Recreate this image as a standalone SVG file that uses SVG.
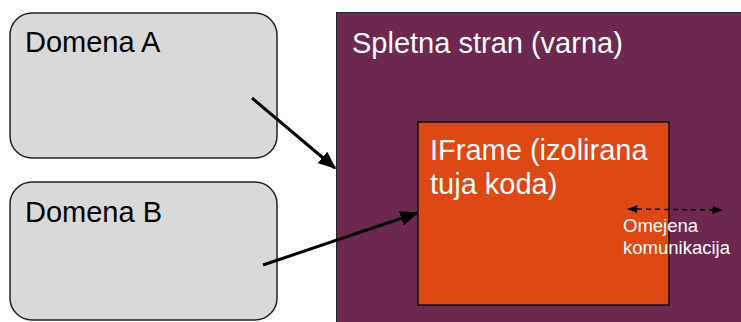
<svg xmlns="http://www.w3.org/2000/svg" width="741" height="322" viewBox="0 0 741 322">
<defs>
<style>
.dom{fill:#d9d9d9;stroke:#222;stroke-width:1.5}
.t{font-family:"Liberation Sans",Arial,sans-serif;font-size:29px}
.s{font-family:"Liberation Sans",Arial,sans-serif;font-size:18.5px;fill:#fff}
.conn{stroke:#000;stroke-width:3;fill:none}
.dash{stroke:#000;stroke-width:1.5;fill:none;stroke-dasharray:5,4}
</style>
<marker id="ah" markerWidth="6" markerHeight="5" refX="5.5" refY="2.5" orient="auto" markerUnits="strokeWidth">
<path d="M0,0 L6,2.5 L0,5 Z" fill="#000"/>
</marker>
<marker id="sh" markerWidth="10" markerHeight="8" refX="9.5" refY="4" orient="auto-start-reverse" markerUnits="userSpaceOnUse">
<path d="M0,0 L10,4 L0,8 Z" fill="#000"/>
</marker>
</defs>
<g id="domena-a">
<rect class="dom" x="10" y="13" width="267" height="145" rx="22"/>
<text class="t" x="25" y="52" fill="#000">Domena A</text>
</g>
<g id="domena-b">
<rect class="dom" x="10" y="182" width="267" height="138" rx="22"/>
<text class="t" x="25" y="222" fill="#000">Domena B</text>
</g>
<g id="spletna-stran">
<rect x="336.5" y="12.5" width="410" height="320" fill="#6c284f" stroke="#222" stroke-width="1"/>
<text class="t" x="352" y="53" fill="#fff">Spletna stran (varna)</text>
</g>
<g id="iframe">
<rect x="418" y="122" width="251" height="183" fill="#dd4814" stroke="#111" stroke-width="1.5"/>
<text class="t" x="430" y="160" fill="#fff">IFrame (izolirana</text>
<text class="t" x="430" y="194" fill="#fff">tuja koda)</text>
</g>
<g id="connectors">
<line class="conn" x1="252" y1="98" x2="335" y2="168" marker-end="url(#ah)"/>
<line class="conn" x1="263" y1="265" x2="417" y2="213" marker-end="url(#ah)"/>
<line class="dash" x1="628" y1="209" x2="722" y2="210" marker-start="url(#sh)" marker-end="url(#sh)"/>
</g>
<g id="label-komunikacija">
<text class="s" x="623" y="232">Omejena</text>
<text class="s" x="623" y="254">komunikacija</text>
</g>
</svg>
